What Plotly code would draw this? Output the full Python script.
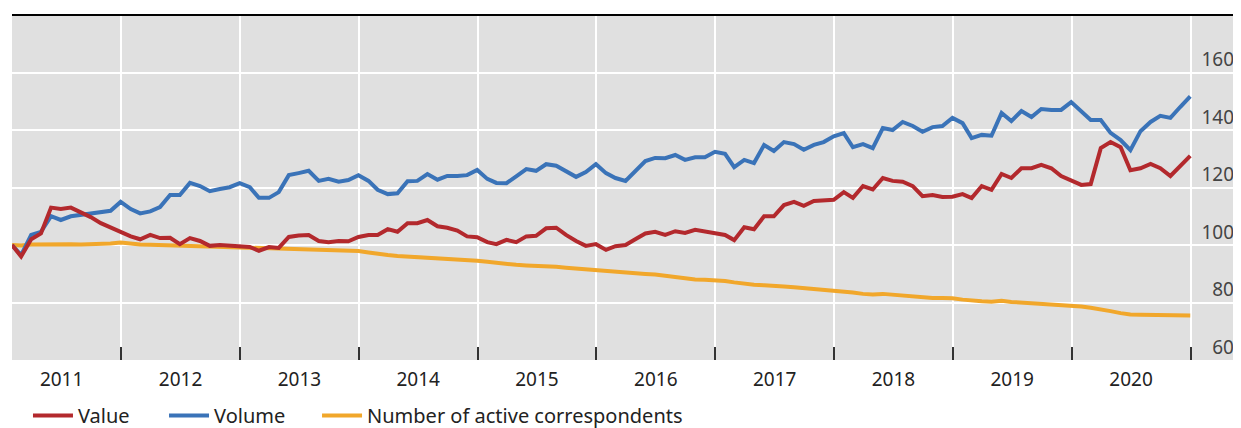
import pandas as pd
import plotly.graph_objects as go

# monthly index, Jan 2011 = 100 (month-end observations)
months = pd.date_range("2011-01-31", periods=120, freq="ME")

value = [
    100.0, 96.0, 102.0, 104.0, 113.0, 112.5, 113.0, 111.5, 109.7, 107.6, 106.0, 104.5,
    103.0, 102.0, 103.5, 102.4, 102.5, 100.3, 102.4, 101.4, 99.7, 100.0, 99.7, 99.3,
    99.3, 98.0, 99.3, 99.0, 102.8, 103.3, 103.5, 101.4, 101.0, 101.4, 101.3, 102.8,
    103.5, 103.5, 105.5, 104.6, 107.6, 107.6, 108.7, 106.5, 106.0, 105.0, 103.0, 102.7,
    101.0, 100.3, 101.8, 101.0, 103.0, 103.2, 105.8, 106.0, 103.5, 101.4, 99.7, 100.3,
    98.3, 99.6, 100.0, 102.0, 104.0, 104.6, 103.5, 104.8, 104.2, 105.3, 104.6, 104.0,
    103.5, 101.7, 106.2, 105.5, 110.0, 110.0, 113.9, 115.0, 113.6, 115.3, 115.6, 115.7,
    118.4, 116.4, 120.5, 119.3, 123.3, 122.3, 122.0, 120.5, 117.0, 117.4, 116.7, 116.8,
    117.7, 116.3, 120.5, 119.2, 124.7, 123.3, 126.7, 126.7, 127.9, 126.7, 124.0, 122.6,
    120.9, 121.2, 133.7, 135.8, 134.0, 126.0, 126.7, 128.2, 126.7, 124.0, 127.4, 131.0,
]

volume = [
    100.0, 96.5, 103.5, 104.6, 110.0, 108.7, 110.0, 110.5, 110.8, 111.4, 111.9, 115.0,
    112.5, 111.0, 111.7, 113.2, 117.4, 117.4, 121.6, 120.5, 118.7, 119.5, 120.1, 121.5,
    120.1, 116.4, 116.4, 118.4, 124.3, 125.0, 125.8, 122.3, 123.0, 122.0, 122.6, 124.3,
    122.3, 119.2, 117.7, 118.0, 122.2, 122.3, 124.7, 122.7, 124.0, 124.0, 124.3, 126.1,
    123.0, 121.6, 121.5, 123.9, 126.4, 125.8, 128.1, 127.6, 125.8, 123.7, 125.4, 128.1,
    125.0, 123.3, 122.3, 125.8, 129.2, 130.3, 130.2, 131.3, 129.6, 130.5, 130.5, 132.4,
    131.7, 127.1, 129.6, 128.5, 134.8, 132.7, 135.8, 135.1, 133.1, 134.8, 135.8, 137.8,
    138.9, 134.0, 135.1, 133.7, 140.7, 140.0, 142.8, 141.4, 139.4, 141.0, 141.4, 144.2,
    142.4, 137.2, 138.3, 138.0, 145.9, 143.1, 146.6, 144.5, 147.3, 147.0, 147.0, 149.7,
    146.7, 143.5, 143.5, 139.0, 136.5, 133.0, 139.6, 142.8, 144.9, 144.2, 148.0, 151.7,
]

correspondents = [
    100.0, 99.8, 100.2, 100.3, 100.4, 100.3, 100.3, 100.2, 100.2, 100.3, 100.5, 100.9,
    100.5, 100.2, 100.1, 100.0, 100.0, 99.9, 99.8, 99.7, 99.5, 99.4, 99.3, 99.2,
    99.0, 98.9, 98.8, 98.7, 98.6, 98.6, 98.5, 98.3, 98.2, 98.1, 98.0, 97.9,
    97.4, 96.9, 96.5, 96.2, 96.0, 95.9, 95.8, 95.5, 95.3, 95.0, 94.8, 94.5,
    94.2, 93.8, 93.4, 93.1, 92.9, 92.8, 92.6, 92.4, 92.1, 91.8, 91.5, 91.2,
    91.0, 90.6, 90.2, 90.0, 89.9, 89.7, 89.3, 88.8, 88.3, 88.0, 87.9, 87.8,
    87.5, 87.0, 86.5, 86.2, 86.0, 85.9, 85.6, 85.3, 85.0, 84.8, 84.6, 84.4,
    84.0, 83.5, 83.0, 82.8, 83.0, 82.7, 82.3, 82.0, 81.8, 81.6, 81.6, 81.5,
    81.0, 80.6, 80.4, 80.3, 80.6, 80.2, 80.0, 79.6, 79.5, 79.4, 79.2, 79.0,
    78.6, 78.2, 77.7, 77.0, 76.3, 75.8, 75.7, 75.7, 75.6, 75.4, 75.4, 75.5,
]

y_ticks = [60, 80, 100, 120, 140, 160]

series = [
    ("Value", value, "#b3292d"),
    ("Volume", volume, "#3a73b8"),
    ("Number of active correspondents", correspondents, "#f1a72b"),
]

FONT = "Noto Sans"

fig = go.Figure()

# each series gets its own legend box so the entries sit where the original has them
legend_ids = {"Value": "legend", "Volume": "legend2",
              "Number of active correspondents": "legend3"}
legend_x = {"legend": 0.0130, "legend2": 0.1237, "legend3": 0.2482}

# draw order: orange at the back, red on top
for name, vals, color in [series[2], series[1], series[0]]:
    fig.add_trace(
        go.Scatter(
            x=months,
            y=vals,
            mode="lines",
            name=name,
            line=dict(color=color, width=4),
            legend=legend_ids[name],
        )
    )

legend_style = dict(
    orientation="h",
    xanchor="left",
    y=-0.104, yanchor="top",
    font=dict(family=FONT, size=20, color="#222"),
    itemwidth=40,
    bgcolor="rgba(0,0,0,0)",
)

# page body adds 8px around the plot div, so the figure is 8px smaller
fig.update_layout(
    width=1233,
    height=420,
    margin=dict(l=4, r=0, t=7, b=68, autoexpand=False),
    paper_bgcolor="white",
    plot_bgcolor="#e0e0e0",
    font=dict(family=FONT, size=19, color="#222"),
    showlegend=True,
    legend=dict(x=legend_x["legend"], **legend_style),
    legend2=dict(x=legend_x["legend2"], **legend_style),
    legend3=dict(x=legend_x["legend3"], **legend_style),
)

fig.update_xaxes(
    type="date",
    range=["2011-01-31", "2021-06-05"],
    tick0="2011-01-01",
    dtick="M12",
    tickformat="%Y",
    ticklabelmode="period",
    ticks="inside",
    ticklen=13,
    tickwidth=1.5,
    tickcolor="#333",
    showgrid=True,
    gridcolor="white",
    gridwidth=2,
    zeroline=False,
    showline=False,
    ticklabelstandoff=6,
)

fig.update_yaxes(
    range=[60, 180],
    tickvals=y_ticks,
    side="right",
    ticklabelposition="inside",
    ticklabelshift=-13,
    ticklabelstandoff=4,
    showgrid=True,
    gridcolor="white",
    gridwidth=2,
    zeroline=False,
    showline=False,
    ticks="",
)

# black rule along the top of the panel
fig.add_shape(
    type="line", xref="paper", yref="paper",
    x0=0, x1=1, y0=1, y1=1,
    line=dict(color="black", width=2),
)

fig.write_html("out.html")
